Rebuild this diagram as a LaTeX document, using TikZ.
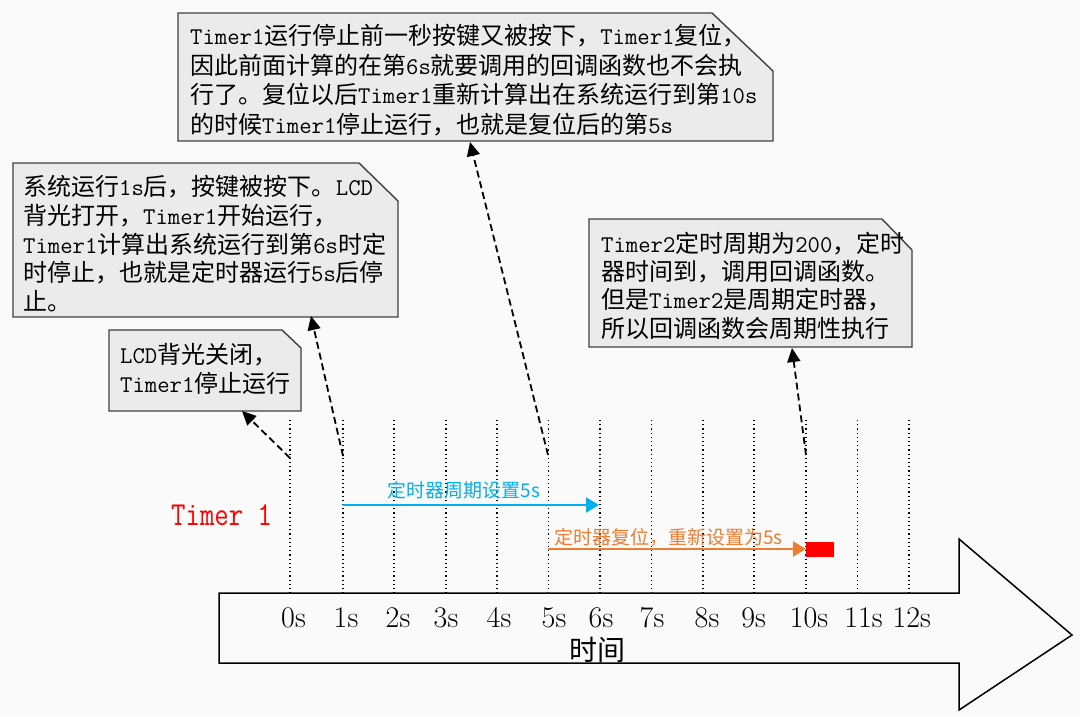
\documentclass[tikz,border=0pt]{standalone}
\usepackage{fontspec}
\newfontfamily\cjk{Noto Sans CJK SC}
\usetikzlibrary{arrows.meta}
\definecolor{bgc}{HTML}{FAFAFA}
\definecolor{boxfill}{HTML}{EBEBEB}
\definecolor{boxline}{HTML}{404040}
\definecolor{tblue}{HTML}{00B0F0}
\definecolor{torange}{HTML}{ED7D31}
\definecolor{tred}{HTML}{FF0000}
\newcommand\la[1]{{\ttfamily #1}}
\begin{document}
\begin{tikzpicture}[x=1pt,y=-1pt,
  callout/.style={draw=boxline, fill=boxfill, line width=1.4pt, line join=miter},
  btxt/.style={anchor=base west, inner sep=0pt, font=\cjk\fontsize{24}{29}\selectfont, text=black},
  dotl/.style={line width=1.2pt, dash pattern=on 1.2pt off 3pt},
  dasharr/.style={line width=1.8pt, dash pattern=on 7pt off 4pt, -{Triangle[length=14pt,width=13pt]}},
  tick/.style={anchor=base, inner sep=0pt, font=\fontsize{30}{30}\selectfont},
  colarr/.style={line width=2pt, -{Triangle[length=13pt,width=15pt]}},
  collab/.style={inner sep=0pt, font=\cjk\fontsize{19}{19}\selectfont}
]
\useasboundingbox (0,0) rectangle (1080,716);
\fill[bgc] (0,0) rectangle (1080,716);

% big time arrow
\draw[line width=1.5pt, fill=bgc, line join=miter] (219,593) -- (959,593) -- (959,539) -- (1072,635) -- (959,710) -- (959,663) -- (219,663) -- cycle;

% dotted time lines
\foreach \n/\x in {0/290,1/343,2/394,3/446,4/497,5/548.5,6/600,7/651.7,8/703,9/754,10/806,11/857.7,12/909}{
  \coordinate (top\n) at (\x,420);
  \coordinate (bot\n) at (\x,593);
  \draw[dotl] (top\n) -- (bot\n);
}

% tick labels
\foreach \n/\x in {0/293.5,1/346,2/398,3/446,4/499,5/554,6/601,7/652,8/707,9/753.6,10/809,11/863.5,12/911.7}{
  \node[tick] (lab\n) at (\x,627) {\n s};
}
\node[anchor=base, inner sep=0pt, font=\cjk\fontsize{28}{28}\selectfont] (timelab) at (597,660) {时间};

% callout boxes
\draw[callout] (178,13) -- (712,13) -- (773,71) -- (773,141) -- (178,141) -- cycle;
\draw[callout] (13,163) -- (359,163) -- (398,201) -- (398,317) -- (13,317) -- cycle;
\draw[callout] (109,330) -- (282,330) -- (301,348) -- (301,411) -- (109,411) -- cycle;
\draw[callout] (589,219) -- (882,219) -- (912,250) -- (912,347) -- (589,347) -- cycle;

% box 1 text
\node[btxt] (b1a) at (190,44.5) {\la{Timer1}运行停止前一秒按键又被按下，\la{Timer1}复位，};
\node[btxt] (b1b) at (190,74) {因此前面计算的在第\la{6s}就要调用的回调函数也不会执};
\node[btxt] (b1c) at (190,103.5) {行了。复位以后\la{Timer1}重新计算出在系统运行到第\la{10s}};
\node[btxt] (b1d) at (190,133) {的时候\la{Timer1}停止运行，也就是复位后的第\la{5s}};

% box 2 text
\node[btxt] (b2a) at (23,195.7) {系统运行\la{1s}后，按键被按下。\la{LCD}};
\node[btxt] (b2b) at (23,224.4) {背光打开，\la{Timer1}开始运行，};
\node[btxt] (b2c) at (23,253) {\la{Timer1}计算出系统运行到第\la{6s}时定};
\node[btxt] (b2d) at (23,281.8) {时停止，也就是定时器运行\la{5s}后停};
\node[btxt] (b2e) at (23,310.5) {止。};

% box 3 text
\node[btxt] (b3a) at (120,363) {\la{LCD}背光关闭，};
\node[btxt] (b3b) at (120,392) {\la{Timer1}停止运行};

% box 4 text
\node[btxt] (b4a) at (601,252) {\la{Timer2}定时周期为\la{200}，定时};
\node[btxt] (b4b) at (601,280.5) {器时间到，调用回调函数。};
\node[btxt] (b4c) at (601,308.5) {但是\la{Timer2}是周期定时器，};
\node[btxt] (b4d) at (601,337) {所以回调函数会周期性执行};

% dashed pointer arrows
\coordinate (s0) at (290,458);
\coordinate (s1) at (343,456);
\coordinate (s5) at (548,455);
\coordinate (s10) at (806,455);
\coordinate (p3) at (242,411);
\coordinate (p2) at (311,316);
\coordinate (p1) at (470,142);
\coordinate (p4) at (792,348);
\draw[dasharr] (s0) -- (p3);
\draw[dasharr] (s1) -- (p2);
\draw[dasharr] (s5) -- (p1);
\draw[dasharr] (s10) -- (p4);

% Timer 1 label
\node[anchor=base west, inner sep=0pt, text=tred, font=\ttfamily\fontsize{28}{28}\selectfont] (t1lab) at (171,525) {\scalebox{1}[1.2]{Timer 1}};

% blue arrow
\coordinate (ba) at (343,505);
\coordinate (bb) at (599,505);
\draw[colarr, draw=tblue, fill=tblue] (ba) -- (bb);
\node[collab, text=tblue, anchor=base] (blab) at (464,497) {定时器周期设置5s};

% orange arrow
\coordinate (oa) at (548,549);
\coordinate (ob) at (806,549);
\draw[colarr, draw=torange, fill=torange] (oa) -- (ob);
\node[collab, text=torange, anchor=base west] (olab) at (554,544) {定时器复位，重新设置为5s};

% red end block
\fill[tred] (806,542) rectangle (834,557);
\end{tikzpicture}
\end{document}
